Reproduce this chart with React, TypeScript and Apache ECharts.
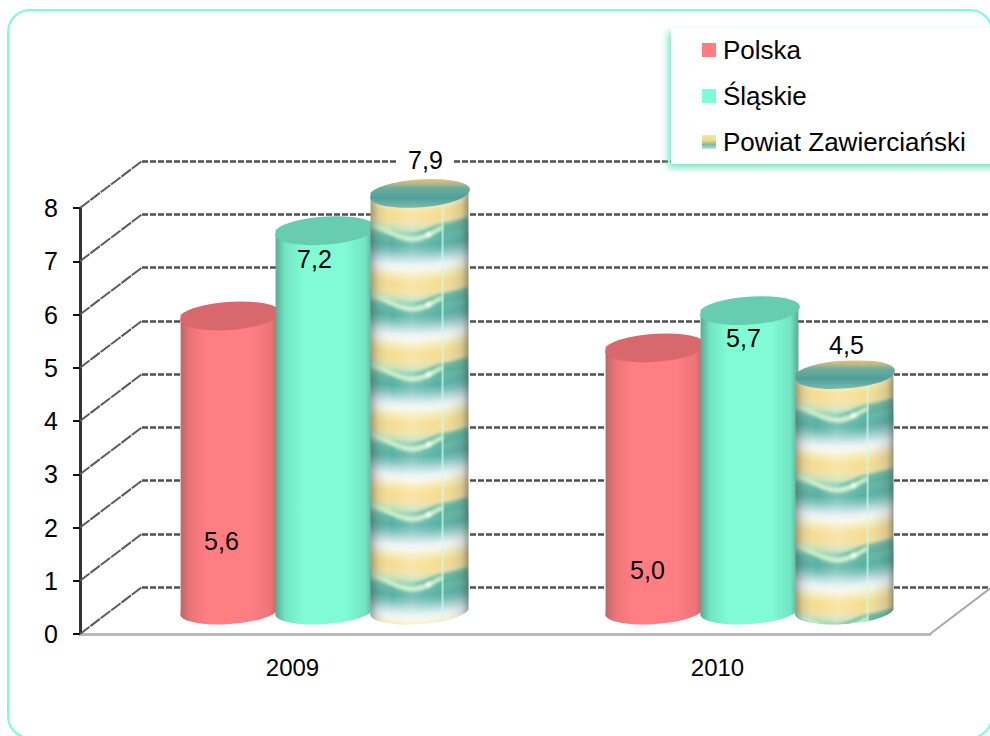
import React, { useEffect, useRef } from "react";
import * as echarts from "echarts";

const categories = ["2009", "2010"];
const polska = [5.6, 5.0];
const slaskie = [7.2, 5.7];
const powiat = [7.9, 4.5];
const yTicks = [0, 1, 2, 3, 4, 5, 6, 7, 8];
const seriesNames = ["Polska", "Śląskie", "Powiat Zawierciański"];

const FONT = '"Liberation Sans", Arial, sans-serif';
const DEPTH_X = 62;
const DEPTH_Y = 47;
const BAR_W = 98;
const BAR_STEP = 95;
const RY = 13;
const TILT = 3.5;
const CAP_DROP = 3;
// label shift from the top-cap centre of each bar, [series][category]
const LABEL_SHIFT = [
  [[-8, 226], [-7, 223]],
  [[-10, 29], [-6, 28]],
  [[6, -33], [2, -29]],
];

function makeTile(): HTMLCanvasElement {
  const flat = document.createElement("canvas");
  flat.width = 98;
  flat.height = 70;
  const g = flat.getContext("2d")!;
  const v = g.createLinearGradient(0, 0, 0, 70);
  const stops: [number, string][] = [
    [0, "#f7f2d6"], [4, "#f6eab6"], [12, "#f7dd8c"], [21, "#f0dfa0"], [27, "#c6e2b6"],
    [36, "#62b9a8"], [44, "#56b0a4"], [50, "#78c0b8"], [57, "#b8dcdc"], [63, "#e8f2f4"], [68, "#f6f6ea"], [70, "#f7f2d6"],
  ];
  stops.forEach(([p, col]) => v.addColorStop(p / 70, col));
  g.fillStyle = v;
  g.fillRect(0, 0, 98, 70);
  g.filter = "blur(1.6px)";
  // darker teal patch over the wave crest
  g.beginPath();
  g.moveTo(38, 33);
  g.bezierCurveTo(50, 31, 58, 25, 72, 24);
  g.lineTo(98, 23);
  g.lineTo(98, 34);
  g.bezierCurveTo(80, 34, 66, 36, 38, 33);
  g.closePath();
  g.fillStyle = "rgba(60,165,150,0.7)";
  g.fill();
  // pale wave
  g.beginPath();
  g.moveTo(-4, 26);
  g.bezierCurveTo(14, 27, 26, 37, 42, 37);
  g.bezierCurveTo(54, 37, 62, 31, 72, 28);
  g.strokeStyle = "rgba(208,242,200,0.95)";
  g.lineWidth = 5;
  g.stroke();
  g.beginPath();
  g.arc(58, 33, 2.6, 0, Math.PI * 2);
  g.fillStyle = "rgba(255,255,255,0.95)";
  g.fill();

  // the picture is wrapped round the cylinder: every column is shifted, with wrap-around
  const c = document.createElement("canvas");
  c.width = 98;
  c.height = 70;
  const out = c.getContext("2d")!;
  for (let x = 0; x < 98; x++) {
    const shift = 6 * Math.sin((Math.PI * x) / 98) - (4 * x) / 98;
    for (const k of [-70, 0, 70]) {
      out.drawImage(flat, x, 0, 1, 70, x, shift + k, 1, 70);
    }
  }
  // seam of the picture
  out.filter = "blur(0.5px)";
  out.fillStyle = "rgba(205,250,235,0.7)";
  out.fillRect(71, -3, 2, 76);
  return c;
}

const edgeGrad = (edge: string, mid: string, main: string) => ({
  type: "linear", x: 0, y: 0, x2: 1, y2: 0,
  colorStops: [
    { offset: 0, color: edge }, { offset: 0.1, color: mid }, { offset: 0.28, color: main },
    { offset: 0.72, color: main }, { offset: 0.92, color: mid }, { offset: 1, color: edge },
  ],
});

export default function App() {
  const ref = useRef<HTMLDivElement>(null);
  useEffect(() => {
    document.body.style.margin = "0";
    const chart = echarts.init(ref.current!, null, { renderer: "svg" });
    const tile = makeTile();

    const cylinder = (idx: number, values: number[], look: any) => ({
      type: "custom",
      name: seriesNames[idx],
      xAxisIndex: 0,
      yAxisIndex: 0,
      z: 3 + idx,
      data: values.map((v, i) => [i, v]),
      encode: { x: 0, y: 1 },
      renderItem: (params: any, api: any) => {
        const i = api.value(0) as number;
        const val = api.value(1) as number;
        const top = api.coord([i, val]);
        const base = api.coord([i, 0]);
        const cx = top[0] + DEPTH_X / 2 + (idx - 1) * BAR_STEP + 1;
        const yt = top[1] - DEPTH_Y / 2 + CAP_DROP;
        const yb = base[1] - DEPTH_Y / 2 - 1;
        const rx = BAR_W / 2;
        const a = (TILT * Math.PI) / 180;
        const dx = rx * Math.cos(a);
        const dy = rx * Math.sin(a);
        const bodyAt = (ox: number, oy: number) =>
          `M${cx - dx - ox} ${yt + dy - oy}L${cx - dx - ox} ${yb + dy - oy}A${rx} ${RY} ${-TILT} 0 0 ${cx + dx - ox} ${yb - dy - oy}L${cx + dx - ox} ${yt - dy - oy}Z`;
        const body = bodyAt(0, 0);
        const cap = `M${cx - dx} ${yt + dy}A${rx} ${RY} ${-TILT} 0 0 ${cx + dx} ${yt - dy}A${rx} ${RY} ${-TILT} 0 0 ${cx - dx} ${yt + dy}Z`;
        const children: any[] = [];
        if (look.pattern) {
          // the tile starts at the bar's own top-left corner, so the path is drawn in local coordinates
          const ox = cx - dx;
          const oy = yt + 5;
          children.push({
            type: "path",
            x: ox,
            y: oy,
            shape: { pathData: bodyAt(ox, oy) },
            style: { fill: { image: tile, repeat: "repeat" } },
          });
          children.push({
            type: "path",
            shape: { pathData: body },
            style: {
              fill: {
                type: "linear", x: 0, y: 0, x2: 1, y2: 0,
                colorStops: [
                  { offset: 0, color: "rgba(70,80,80,0.5)" }, { offset: 0.08, color: "rgba(90,100,100,0.16)" },
                  { offset: 0.22, color: "rgba(255,255,255,0)" }, { offset: 0.42, color: "rgba(255,255,255,0.22)" },
                  { offset: 0.7, color: "rgba(255,255,255,0)" },
                  { offset: 0.93, color: "rgba(80,90,90,0.18)" }, { offset: 1, color: "rgba(60,70,70,0.5)" },
                ],
              },
            },
          });
        } else {
          children.push({ type: "path", shape: { pathData: body }, style: { fill: look.body } });
        }
        children.push({ type: "path", shape: { pathData: cap }, style: { fill: look.cap } });
        const shift = LABEL_SHIFT[idx][i];
        children.push({
          type: "text",
          z2: 50,
          style: {
            text: String(val.toFixed(1)).replace(".", ","),
            x: cx + shift[0],
            y: yt + shift[1],
            align: "center",
            verticalAlign: "middle",
            fill: "#000",
            font: `25px ${FONT}`,
            ...(look.pattern ? { backgroundColor: "#fff", padding: [3, 10, 3, 10] } : {}),
          },
        });
        return { type: "group", children };
      },
    });

    const option: any = {
      animation: false,
      backgroundColor: "#fff",
      textStyle: { fontFamily: FONT },
      graphic: [
        {
          type: "rect",
          z: -10,
          silent: true,
          shape: { x: 8, y: 10, width: 984, height: 728, r: 22 },
          style: { fill: "#fff", stroke: "#7ffbd6", lineWidth: 2 },
        },
      ],
      grid: [
        { left: 80, right: 60, top: 208, bottom: 102, containLabel: false },
        { left: 80 + DEPTH_X, width: 850, top: 208 - DEPTH_Y, height: 426, containLabel: false },
      ],
      xAxis: [
        {
          type: "category",
          gridIndex: 0,
          data: categories,
          axisLine: { lineStyle: { color: "#b9b9b9", width: 3 } },
          axisTick: { length: 11, lineStyle: { color: "#111", width: 2 } },
          axisLabel: { color: "#000", fontSize: 24, fontFamily: FONT, margin: 21 },
        },
        {
          type: "category",
          gridIndex: 1,
          data: categories,
          axisLine: { show: false },
          axisTick: { show: false },
          axisLabel: { show: false },
        },
      ],
      yAxis: [
        {
          type: "value",
          gridIndex: 0,
          min: 0,
          max: 8,
          interval: 1,
          splitLine: { show: false },
          axisLine: { show: true, lineStyle: { color: "#333", width: 3 } },
          axisTick: { show: true, length: 7, lineStyle: { color: "#111", width: 2 } },
          axisLabel: { color: "#000", fontSize: 25, fontFamily: FONT, margin: 22, padding: [5, 0, 0, 0] },
        },
        {
          type: "value",
          gridIndex: 1,
          min: 0,
          max: 8,
          interval: 1,
          axisLine: { show: false },
          axisTick: { show: false },
          axisLabel: { show: false },
          splitLine: { show: true, lineStyle: { color: "#4f4f4f", width: 2.5, type: [6, 2] } },
        },
      ],
      legend: {
        orient: "vertical",
        left: 671,
        top: 28,
        padding: [9, 70, 9, 31],
        backgroundColor: "#fff",
        shadowColor: "rgba(110,225,190,0.9)",
        shadowBlur: 7,
        shadowOffsetX: -3,
        shadowOffsetY: 4,
        itemWidth: 14,
        itemHeight: 14,
        itemGap: 20,
        icon: "rect",
        selectedMode: false,
        textStyle: { fontSize: 26, color: "#000", fontFamily: FONT, padding: [0, 0, 0, 2] },
        data: [
          { name: seriesNames[0], itemStyle: { color: "#ff7d80" } },
          { name: seriesNames[1], itemStyle: { color: "#7ffbd6" } },
          {
            name: seriesNames[2],
            itemStyle: {
              color: {
                type: "linear", x: 0, y: 0, x2: 0, y2: 1,
                colorStops: [
                  { offset: 0, color: "#f0e8b0" }, { offset: 0.4, color: "#f2d878" },
                  { offset: 0.7, color: "#6fbcae" }, { offset: 1, color: "#c8e4e0" },
                ],
              },
            },
          },
        ],
      },
      series: [
        {
          type: "custom",
          name: "frame",
          xAxisIndex: 0,
          yAxisIndex: 0,
          z: 1,
          silent: true,
          data: yTicks.map((t) => [0, t]),
          encode: { x: 0, y: 1 },
          renderItem: (params: any, api: any) => {
            const t = api.value(1) as number;
            const p = api.coord([0, t]);
            const sys = params.coordSys;
            const children: any[] = [
              {
                type: "line",
                shape: { x1: sys.x, y1: p[1], x2: sys.x + DEPTH_X, y2: p[1] - DEPTH_Y },
                style: { stroke: "#5a5a5a", lineWidth: 2, lineDash: [12, 1] },
              },
            ];
            if (t === 0) {
              children.push({
                type: "line",
                shape: { x1: sys.x + sys.width, y1: p[1], x2: sys.x + sys.width + DEPTH_X, y2: p[1] - DEPTH_Y },
                style: { stroke: "#a8a8a8", lineWidth: 2 },
              });
            }
            return { type: "group", children };
          },
        },
        cylinder(0, polska, {
          body: edgeGrad("#b5696b", "#ec7477", "#ff7e82"),
          cap: "#d9686c",
        }),
        cylinder(1, slaskie, {
          body: edgeGrad("#5aa893", "#72e4c2", "#80fbd6"),
          cap: "#68cdb0",
        }),
        cylinder(2, powiat, {
          pattern: true,
          cap: {
            type: "linear", x: 0, y: 0, x2: 0, y2: 1,
            colorStops: [
              { offset: 0, color: "#e3c47a" }, { offset: 0.16, color: "#b3b88c" }, { offset: 0.3, color: "#6fae9c" },
              { offset: 0.65, color: "#4f9f9a" }, { offset: 1, color: "#7cbcae" },
            ],
          },
        }),
      ],
    };
    chart.setOption(option);
    return () => chart.dispose();
  }, []);
  return <div ref={ref} style={{ width: 990, height: 736, overflow: "hidden" }} />;
}
